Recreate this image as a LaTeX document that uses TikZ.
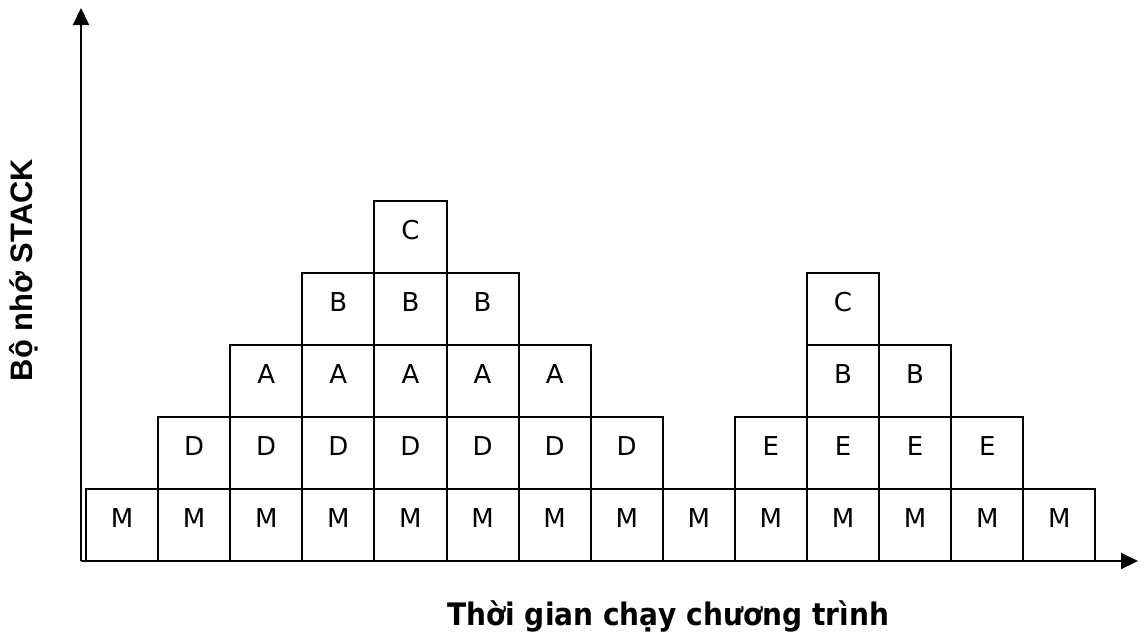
\documentclass[tikz,border=0pt]{standalone}
\usepackage{fontspec}
\setmainfont{DejaVu Sans}
\newfontfamily\arialbold{Liberation Sans}
\usetikzlibrary{arrows.meta}
\begin{document}
\begin{tikzpicture}[x=1pt,y=-1pt,
  cell/.style={draw, line width=2pt, minimum width=72.1pt, minimum height=72pt,
    inner sep=0pt, text height=19pt, text depth=15pt, font=\fontsize{26}{26}\selectfont},
  axis/.style={line width=2pt, -{Triangle[length=17pt,width=16pt]}}]
\useasboundingbox (0,0) rectangle (1146,635);
\def\cx#1{86+72.1*(#1+0.5)}
\def\cy#1{561-72*(#1+0.5)}
\newcommand\cellat[4]{\node[cell] (#1) at ({\cx{#2}},{\cy{#3}}) {#4};}
% bottom row M
\foreach \i in {0,...,13} {\node[cell] (m\i) at ({\cx{\i}},{\cy{0}}) {M};}
% D row
\foreach \i in {1,...,7} {\node[cell] (d\i) at ({\cx{\i}},{\cy{1}}) {D};}
% A row
\foreach \i in {2,...,6} {\node[cell] (a\i) at ({\cx{\i}},{\cy{2}}) {A};}
% B row
\foreach \i in {3,...,5} {\node[cell] (b\i) at ({\cx{\i}},{\cy{3}}) {B};}
\cellat{c4}{4}{4}{C}
% second call tree
\foreach \i in {9,...,12} {\node[cell] (e\i) at ({\cx{\i}},{\cy{1}}) {E};}
\foreach \i in {10,11} {\node[cell] (bb\i) at ({\cx{\i}},{\cy{2}}) {B};}
\cellat{c10}{10}{3}{C}
% axes
\coordinate (origin) at (81,561);
\coordinate (ytip) at (81,8);
\coordinate (xtip) at (1138,561);
\draw[axis] (origin) -- (ytip);
\draw[axis] (origin) -- (xtip);
% axis labels
\node[rotate=90, anchor=base, inner sep=0pt] (ylab) at (33,270)
  {\resizebox{222pt}{\height}{\fontsize{31}{31}\selectfont\arialbold\bfseries Bộ nhớ STACK}};
\node[anchor=base west, inner sep=0pt] (xlab) at (447,625.5)
  {\resizebox{442pt}{\height}{\fontsize{31}{31}\selectfont\bfseries Thời gian chạy chương trình}};
\end{tikzpicture}
\end{document}
